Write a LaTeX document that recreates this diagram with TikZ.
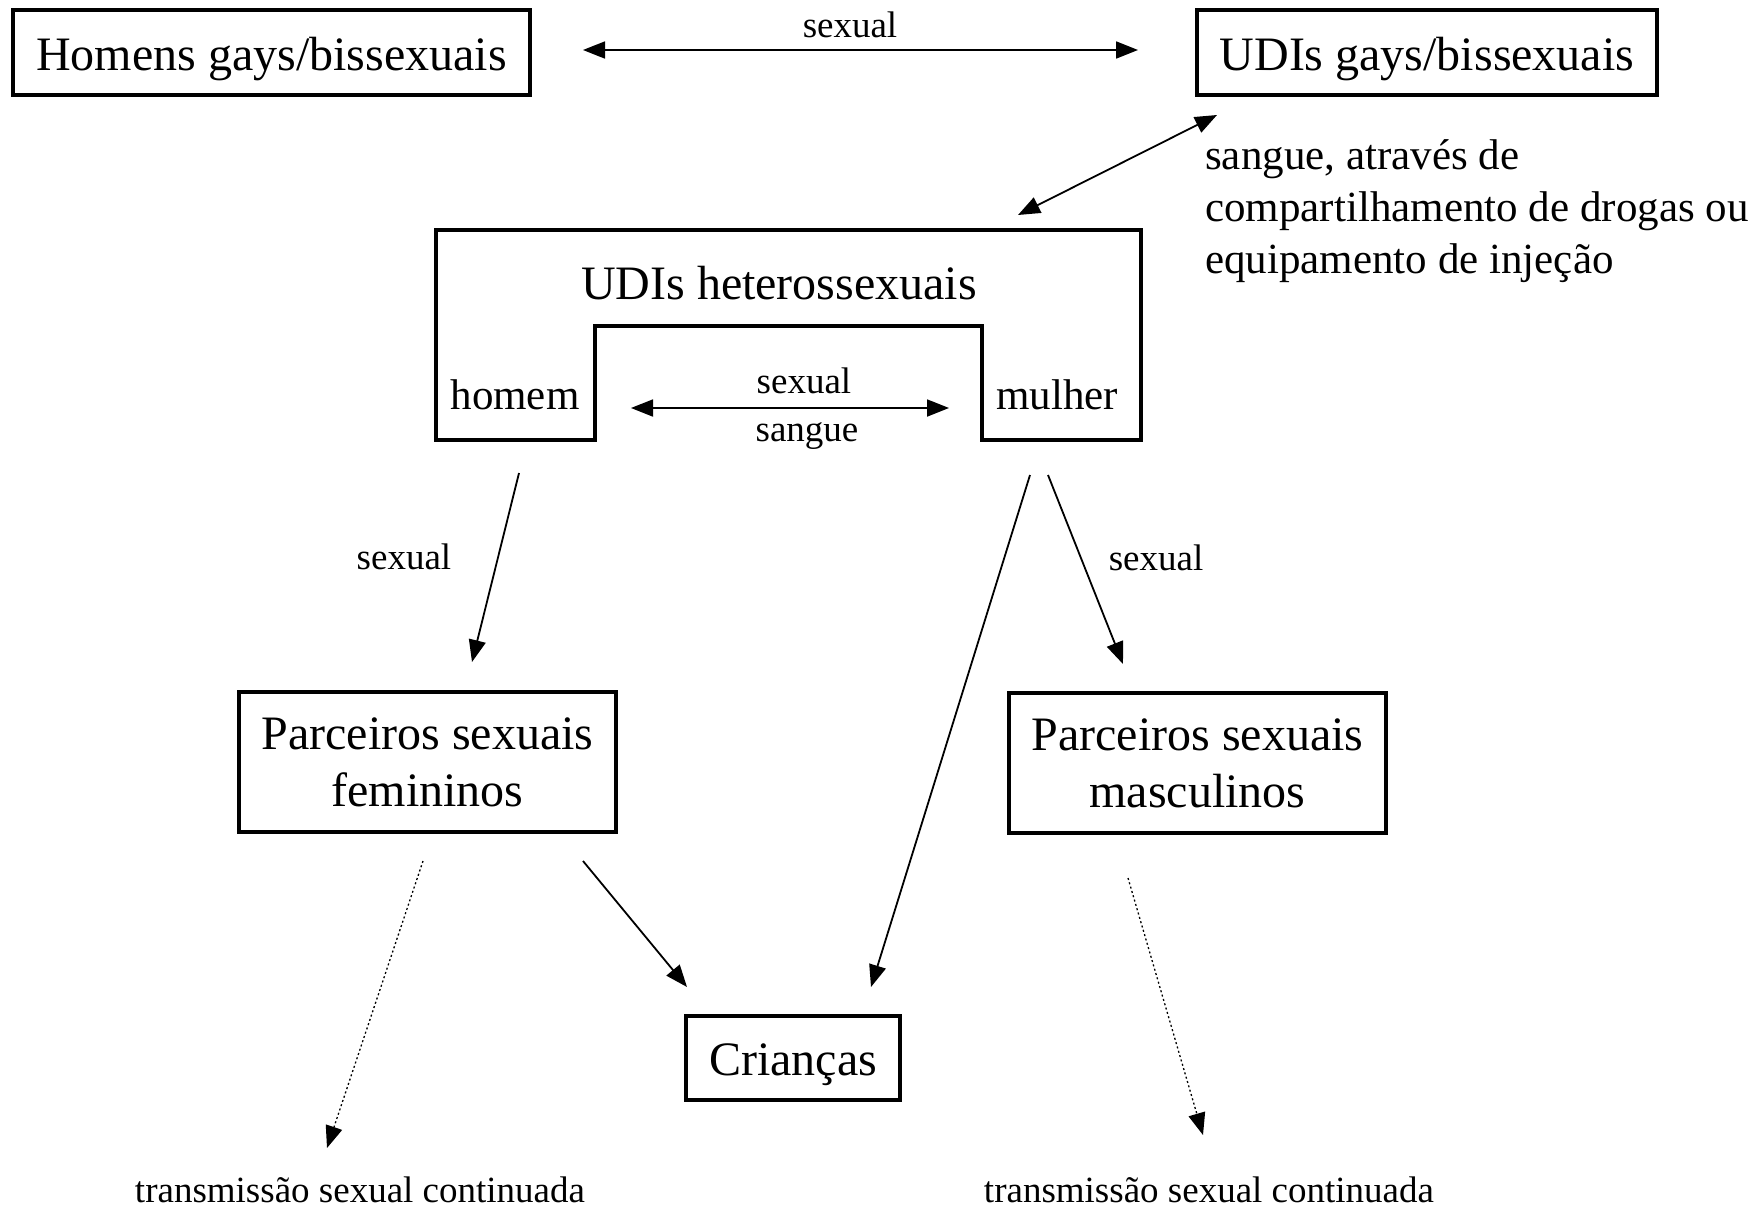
\documentclass[tikz,border=0pt]{standalone}
\usepackage{fontspec}
\setmainfont{Liberation Serif}
\usetikzlibrary{arrows.meta}

\begin{document}
\begin{tikzpicture}[x=1pt,y=-1pt,
  box/.style={draw, line width=3.8pt, inner sep=0pt, align=center,
              font=\fontsize{48}{57}\selectfont},
  onebox/.style={box, text height=38pt, text depth=3pt},
  big/.style={inner sep=0pt, font=\fontsize{48}{57}\selectfont},
  mid/.style={inner sep=0pt, font=\fontsize{43}{52}\selectfont},
  small/.style={inner sep=0pt, font=\fontsize{37}{44}\selectfont},
  tip/.style={Triangle[length=22pt,width=17pt]},
  link/.style={line width=1.8pt, -{Triangle[length=22pt,width=17pt]}},
  duplex/.style={line width=1.8pt, {Triangle[length=22pt,width=17pt]}-{Triangle[length=22pt,width=17pt]}},
  faint/.style={line width=1.3pt, dash pattern=on 2pt off 2.5pt, -{Triangle[length=22pt,width=17pt]}}]
\useasboundingbox (0,0) rectangle (1758,1210);

% top row
\node[onebox, minimum width=517pt, minimum height=85pt] (gays) at (271.5,52.5) {Homens gays/bissexuais};
\node[onebox, minimum width=460pt, minimum height=85pt] (udigays) at (1427,52.5) {UDIs gays/bissexuais};

% heterosexual injecting users: frame with a notch between the two sexes
\draw[line width=3.8pt, line join=miter]
  (436,230) -- (1141,230) -- (1141,440) -- (982,440) -- (982,326)
  -- (595,326) -- (595,440) -- (436,440) -- cycle;
\node[big] (hetero) at (779,283) {UDIs heterossexuais};
\node[mid] (homem) at (515,395) {homem};
\node[mid] (mulher) at (1057,395) {mulher};

% partners and children
\node[box, minimum width=377pt, minimum height=140pt] (fem) at (427.5,762) {Parceiros sexuais\\femininos};
\node[box, minimum width=377pt, minimum height=140pt] (masc) at (1197.5,763) {Parceiros sexuais\\masculinos};
\node[onebox, minimum width=214pt, minimum height=84pt] (kids) at (793,1058) {Crianças};

% end points of the connectors
\coordinate (gays-e) at (583,50);
\coordinate (udigays-w) at (1138,50);
\coordinate (udigays-s) at (1217,115);
\coordinate (hetero-ne) at (1018,215);
\coordinate (homem-e) at (631,408);
\coordinate (mulher-w) at (949,408);
\coordinate (homem-s) at (519,473);
\coordinate (fem-n) at (472,662);
\coordinate (mulher-s1) at (1048,475);
\coordinate (masc-n) at (1123,664);
\coordinate (mulher-s2) at (1030,475);
\coordinate (kids-ne) at (871,987);
\coordinate (fem-se) at (583,861);
\coordinate (kids-nw) at (687,987);
\coordinate (fem-s) at (423,861);
\coordinate (contL) at (327,1148);
\coordinate (masc-s) at (1128,878);
\coordinate (contR) at (1203,1135);

% connectors
\draw[duplex] (gays-e) -- (udigays-w);
\node[small] (lsex1) at (850,25) {sexual};

\draw[duplex] (udigays-s) -- (hetero-ne);
\node[mid, anchor=west, align=left] (lblood) at (1205,211)
  {sangue, através de\\compartilhamento de drogas ou\\equipamento de injeção};

\draw[duplex] (homem-e) -- (mulher-w);
\node[small] (lsex2) at (804,381) {sexual};
\node[small] (lblood2) at (807,436) {sangue};

\draw[link] (homem-s) -- (fem-n);
\node[small] (lsex3) at (404,557) {sexual};
\draw[link] (mulher-s1) -- (masc-n);
\node[small] (lsex4) at (1156,558) {sexual};
\draw[link] (mulher-s2) -- (kids-ne);
\draw[link] (fem-se) -- (kids-nw);

\draw[faint] (fem-s) -- (contL);
\draw[faint] (masc-s) -- (contR);
\node[small] (tL) at (360,1190) {transmissão sexual continuada};
\node[small] (tR) at (1209,1190) {transmissão sexual continuada};
\end{tikzpicture}
\end{document}
